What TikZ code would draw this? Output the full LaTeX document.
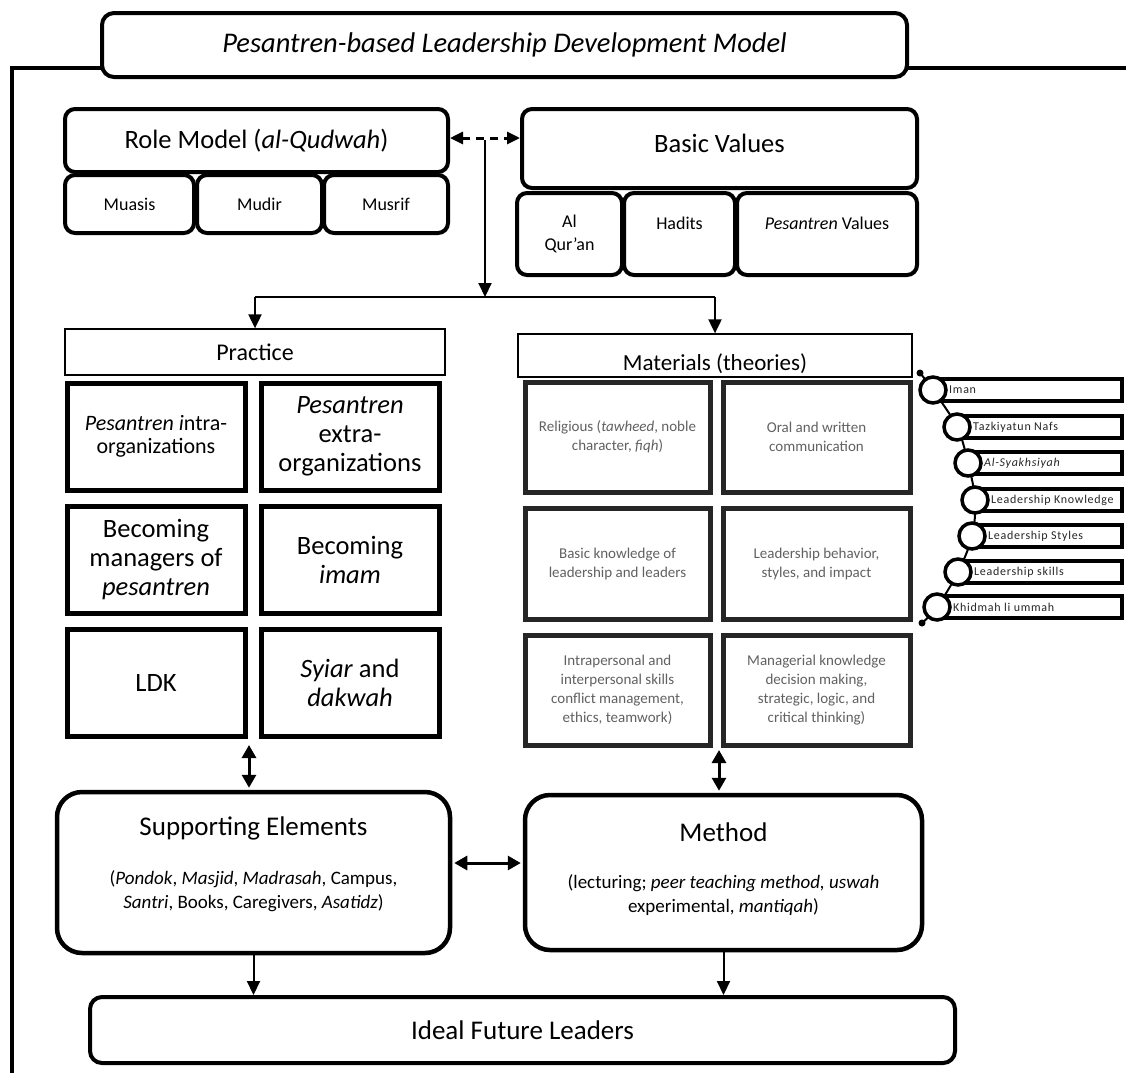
\documentclass[tikz,border=0pt]{standalone}
\usepackage{fontspec}
\setmainfont{Carlito}
\newfontfamily\listfont[LetterSpace=6]{Carlito}
\usetikzlibrary{arrows.meta,calc}
\newcommand\myfs[2]{\fontsize{#1}{#2}\selectfont}
% \bx{name}{style}{x1}{y1}{x2}{y2}{text}
\newcommand\bx[7]{\node[#2, minimum width={(#5)-(#3)}, minimum height={(#6)-(#4)}] (#1) at ({((#3)+(#5))/2},{((#4)+(#6))/2}) {#7};}
\begin{document}
\begin{tikzpicture}[x=1pt,y=-1pt,
  rbox/.style={draw, line width=4pt, rounded corners=10pt, inner sep=0pt, fill=white, align=center},
  sqbox/.style={draw, line width=5pt, inner sep=0pt, fill=white, align=center},
  mbox/.style={draw=black!85, line width=5pt, inner sep=0pt, fill=white, align=center, text=black!62, font=\myfs{15}{19}},
  hbox/.style={draw, line width=1.3pt, inner sep=0pt},
  lbar/.style={draw, line width=3.5pt, inner sep=0pt, fill=white},
  lcirc/.style={draw, circle, line width=3.5pt, minimum size=26pt, inner sep=0pt, fill=white},
  ltext/.style={anchor=west, inner sep=0pt, font=\listfont\myfs{12}{14}, text=black!85},
  txt/.style={inner sep=0pt, align=center},
  arr/.style={line width=2pt, -{Triangle[length=14pt,width=13pt]}},
  darr/.style={line width=3pt, {Triangle[length=13pt,width=14pt]}-{Triangle[length=13pt,width=14pt]}},
]
\useasboundingbox[fill=white] (0,0) rectangle (1126,1072);

% title and frame
\coordinate (fl) at (102,68);
\coordinate (fr) at (907,68);
\draw[line width=4pt] (fl) -- (12,68) -- (12,1080);
\draw[line width=4pt] (fr) -- (1135,68);
\bx{title}{rbox, rounded corners=12pt, font=\myfs{28.5}{32}\itshape}{102}{13}{907}{77}{Pesantren-based Leadership Development Model}

% role model
\bx{rm}{rbox, font=\myfs{26.5}{30}}{65}{109}{448}{172}{Role Model (\textit{al-Qudwah})}
\bx{muasis}{rbox, font=\myfs{18}{22}}{65}{175}{194}{233}{Muasis}
\bx{mudir}{rbox, font=\myfs{18}{22}}{197}{175}{322}{233}{Mudir}
\bx{musrif}{rbox, font=\myfs{18}{22}}{324}{175}{448}{233}{Musrif}

% basic values
\bx{bv}{rbox}{522}{109}{917}{188}{}
\node[txt, font=\myfs{26.5}{30}] (bvt) at (719.5,143) {Basic Values};
\bx{quran}{rbox, font=\myfs{18}{23}}{517}{193}{622}{275}{Al\\Qur'an}
\bx{hadits}{rbox}{624}{193}{735}{275}{}
\node[txt, font=\myfs{18}{22}] (haditst) at (679.5,223) {Hadits};
\bx{pval}{rbox}{737}{193}{917}{275}{}
\node[txt, font=\myfs{18}{22}] (pvalt) at (827,223) {\textit{Pesantren} Values};

% dashed link
\coordinate (dl) at (0,138);
\draw[line width=3pt, dash pattern=on 8pt off 6pt, {Triangle[length=13pt,width=12pt]}-{Triangle[length=13pt,width=12pt]}] (rm.east |- dl) -- (bv.west |- dl);

% headers
\bx{pr}{hbox, fill=white, font=\myfs{24}{28}}{65}{329}{445}{375}{Practice}
\node[txt, anchor=base, font=\myfs{23}{27}] (matt) at (715,370) {Materials (theories)};
\bx{mat}{hbox}{518}{334}{912}{377}{}

\coordinate (j1) at (485,140);
\coordinate (hub) at (485,297);
\coordinate (hl) at (pr.north |- hub);
\coordinate (hr) at (mat.north |- hub);
\draw[arr] (j1) -- (hub);
\draw[line width=2pt] (hl) -- (hr);
\draw[arr] (hl) -- (pr.north);
\draw[arr] (hr) -- (mat.north);

% practice grid
\bx{p11}{sqbox, font=\myfs{22}{23.5}}{67}{383}{245}{490}{\textit{Pesantren i}ntra-\\organizations}
\bx{p12}{sqbox, font=\myfs{26.5}{29}}{261}{383}{439}{490}{\textit{Pesantren}\\extra-\\organizations}
\bx{p21}{sqbox, font=\myfs{26.5}{29}}{67}{506}{245}{613}{Becoming\\managers of\\\textit{pesantren}}
\bx{p22}{sqbox, font=\myfs{26.5}{29}}{261}{506}{439}{613}{Becoming\\\textit{imam}}
\bx{p31}{sqbox, font=\myfs{26.5}{29}}{67}{629}{245}{736}{LDK}
\bx{p32}{sqbox, font=\myfs{26.5}{29}}{261}{629}{439}{736}{\textit{Syiar} and\\\textit{dakwah}}

% materials grid
\bx{m11}{mbox}{525}{382}{710}{492}{Religious (\textit{tawheed}, noble\\character, \textit{fiqh})}
\bx{m12}{mbox}{723}{382}{910}{492}{Oral and written\\communication}
\bx{m21}{mbox}{525}{508}{710}{619}{Basic knowledge of\\leadership and leaders}
\bx{m22}{mbox}{723}{508}{910}{619}{Leadership behavior,\\styles, and impact}
\bx{m31}{mbox}{525}{635}{710}{745}{Intrapersonal and\\interpersonal skills\\conflict management,\\ethics, teamwork)}
\bx{m32}{mbox}{723}{635}{910}{745}{Managerial knowledge\\decision making,\\strategic, logic, and\\critical thinking)}

% right list
\foreach \i/\cx/\cy in {1/933/390, 2/957/427, 3/968/463, 4/975/500, 5/972/536, 6/958/572, 7/937/607}
  \coordinate (c\i) at (\cx,\cy);
\coordinate (dtop) at (920,373);
\coordinate (dbot) at (922,623);
\draw[line width=2pt] plot[smooth, tension=0.6] coordinates {(dtop) (c1) (c2) (c3) (c4) (c5) (c6) (c7) (dbot)};
\node[circle, fill, inner sep=0pt, minimum size=7pt] (dtopn) at (dtop) {};
\node[circle, fill, inner sep=0pt, minimum size=7pt] (dbotn) at (dbot) {};
\foreach \i/\cx/\cy/\t in {1/933/390/Iman, 2/957/427/Tazkiyatun Nafs, 3/968/463/{\textit{Al-Syakhsiyah}}, 4/975/500/Leadership Knowledge, 5/972/536/Leadership Styles, 6/958/572/Leadership skills, 7/937/607/Khidmah li ummah}{
  \bx{bar\i}{lbar}{\cx}{\cy-11}{1122}{\cy+11}{}
  \node[lcirc] (circ\i) at (c\i) {};
  \node[ltext] (lt\i) at (\cx+16,\cy) {\t};
}

% supporting and method
\bx{sup}{rbox, line width=4.5pt, rounded corners=25pt}{57}{792}{450}{953}{}
\node[txt, font=\myfs{27}{30}] (supt) at (253.5,828) {Supporting Elements};
\node[txt, font=\myfs{19}{24}] (supd) at (253.5,891) {(\textit{Pondok}, \textit{Masjid}, \textit{Madrasah}, Campus,\\\textit{Santri}, Books, Caregivers, \textit{Asatidz})};
\bx{meth}{rbox, line width=4.5pt, rounded corners=25pt}{525}{795}{922}{950}{}
\node[txt, font=\myfs{27}{30}] (metht) at (723.5,832) {Method};
\node[txt, font=\myfs{19}{24}] (methd) at (723.5,895) {(lecturing; \textit{peer teaching method, uswah}\\experimental, \textit{mantiqah})};

% ideal
\bx{ideal}{rbox, rounded corners=12pt, font=\myfs{27}{30}}{90}{997}{955}{1063}{Ideal Future Leaders}

% connectors
\coordinate (pg) at (249,745);
\coordinate (mg) at (719,750);
\coordinate (hm) at (0,863);
\draw[darr, shorten >=2pt] (pg) -- (sup.north -| pg);
\draw[darr, shorten >=2pt] (mg) -- (meth.north -| mg);
\draw[darr, shorten >=2pt, shorten <=2pt] (sup.east |- hm) -- (meth.west |- hm);
\draw[arr] (sup.south) -- (ideal.north -| sup.south);
\draw[arr] (meth.south) -- (ideal.north -| meth.south);
\end{tikzpicture}
\end{document}
